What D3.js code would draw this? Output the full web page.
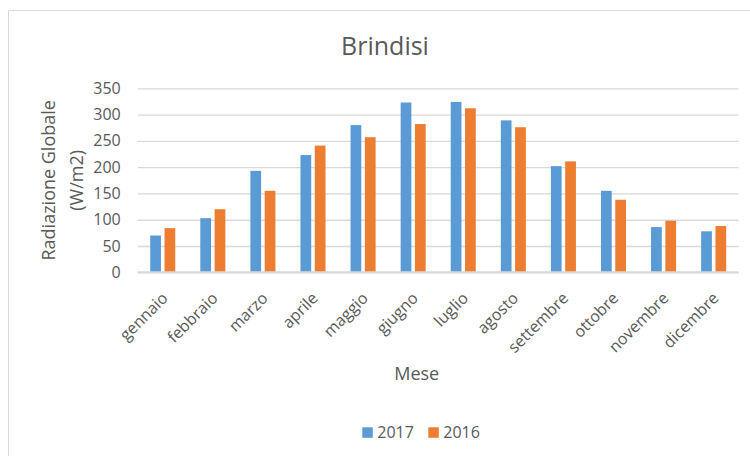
<!DOCTYPE html>
<html>
<head>
<meta charset="utf-8">
<script src="https://cdn.jsdelivr.net/npm/d3@7"></script>
<style>
  body { margin: 0; background: #fff; }
  text { font-family: "Open Sans", sans-serif; fill: #595959; }
</style>
</head>
<body>
<svg id="chart" width="750" height="456"></svg>
<script>
// Data
var months = ['gennaio', 'febbraio', 'marzo', 'aprile', 'maggio', 'giugno',
              'luglio', 'agosto', 'settembre', 'ottobre', 'novembre', 'dicembre'];
var series = ['2017', '2016'];
var values2017 = [70, 103, 193, 223, 280, 323, 324, 289, 202, 155, 86, 78];
var values2016 = [84, 120, 155, 241, 257, 282, 312, 276, 211, 138, 98, 88];
var yTicks = [0, 50, 100, 150, 200, 250, 300, 350];
var colors = ['#5B9BD5', '#ED7D31'];

var svg = d3.select('#chart');

// plot area
var plotL = 137.7, plotR = 738.7, plotT = 88.3, plotB = 272.3;

// chart border (only top and left visible in the crop)
svg.append('path')
    .attr('d', 'M8.5,456 L8.5,10.5 L750,10.5')
    .attr('fill', 'none')
    .attr('stroke', '#d9d9d9')
    .attr('stroke-width', 1);

var x0 = d3.scaleBand().domain(months).range([plotL, plotR])
    .paddingInner(0.5).paddingOuter(0.25);
var x1 = d3.scaleBand().domain(series).range([0, x0.bandwidth()])
    .paddingInner(0.25);
var y = d3.scaleLinear().domain([0, 350]).range([plotB, plotT]);

// gridlines + y labels
var yAxis = svg.append('g')
    .attr('transform', 'translate(' + plotL + ',0)')
    .call(d3.axisLeft(y).tickValues(yTicks).tickSize(-(plotR - plotL)).tickPadding(17));
yAxis.select('.domain').remove();
yAxis.selectAll('line').attr('stroke', '#d9d9d9').attr('stroke-width', 1.3);
yAxis.selectAll('text')
    .style('font-size', '16px')
    .style('font-family', '"Open Sans", sans-serif')
    .attr('fill', '#595959');

// bars
var rows = months.map(function(m, i) {
    return {month: m, vals: [values2017[i], values2016[i]]};
});

svg.selectAll('.group')
    .data(rows)
    .enter()
    .append('g')
    .classed('group', true)
    .attr('transform', function(d) { return 'translate(' + x0(d.month) + ',0)'; })
    .selectAll('rect')
    .data(function(d) { return d.vals.map(function(v, j) { return {s: series[j], v: v, c: colors[j]}; }); })
    .enter()
    .append('rect')
    .attr('x', function(d) { return x1(d.s); })
    .attr('y', function(d) { return y(d.v); })
    .attr('width', x1.bandwidth())
    .attr('height', function(d) { return plotB - y(d.v); })
    .attr('fill', function(d) { return d.c; });

// baseline
svg.append('line')
    .attr('x1', plotL).attr('x2', plotR)
    .attr('y1', plotB).attr('y2', plotB)
    .attr('stroke', '#d9d9d9')
    .attr('stroke-width', 2);

// x labels, rotated
svg.selectAll('.xlab')
    .data(months)
    .enter()
    .append('text')
    .classed('xlab', true)
    .attr('transform', function(d) {
        return 'translate(' + (x0(d) + x0.bandwidth() / 2 + 2) + ',' + (plotB + 23) + ') rotate(-45)';
    })
    .attr('text-anchor', 'end')
    .attr('dy', '0.35em')
    .style('font-size', '16px')
    .text(function(d) { return d; });

// title
svg.append('text')
    .attr('x', 385).attr('y', 54.5)
    .attr('text-anchor', 'middle')
    .style('font-size', '25px')
    .text('Brindisi');

// y axis title (two lines)
var ytitle = svg.append('text')
    .attr('transform', 'translate(55,' + ((plotT + plotB) / 2) + ') rotate(-90)')
    .attr('text-anchor', 'middle')
    .style('font-size', '18px');
ytitle.append('tspan').attr('x', 0).attr('y', 0).text('Radiazione Globale');
ytitle.append('tspan').attr('x', 0).attr('y', 28).text('(W/m2)');

// x axis title
svg.append('text')
    .attr('x', 416.7).attr('y', 380)
    .attr('text-anchor', 'middle')
    .style('font-size', '18px')
    .text('Mese');

// legend
var legX = [362.3, 428.3];
var legend = svg.selectAll('.leg')
    .data(series)
    .enter()
    .append('g')
    .classed('leg', true)
    .attr('transform', function(d, i) { return 'translate(' + legX[i] + ',427.3)'; });
legend.append('rect')
    .attr('width', 10.5).attr('height', 10.5)
    .attr('fill', function(d, i) { return colors[i]; });
legend.append('text')
    .attr('x', 15).attr('y', 10.5)
    .style('font-size', '16px')
    .text(function(d) { return d; });
</script>
</body>
</html>
